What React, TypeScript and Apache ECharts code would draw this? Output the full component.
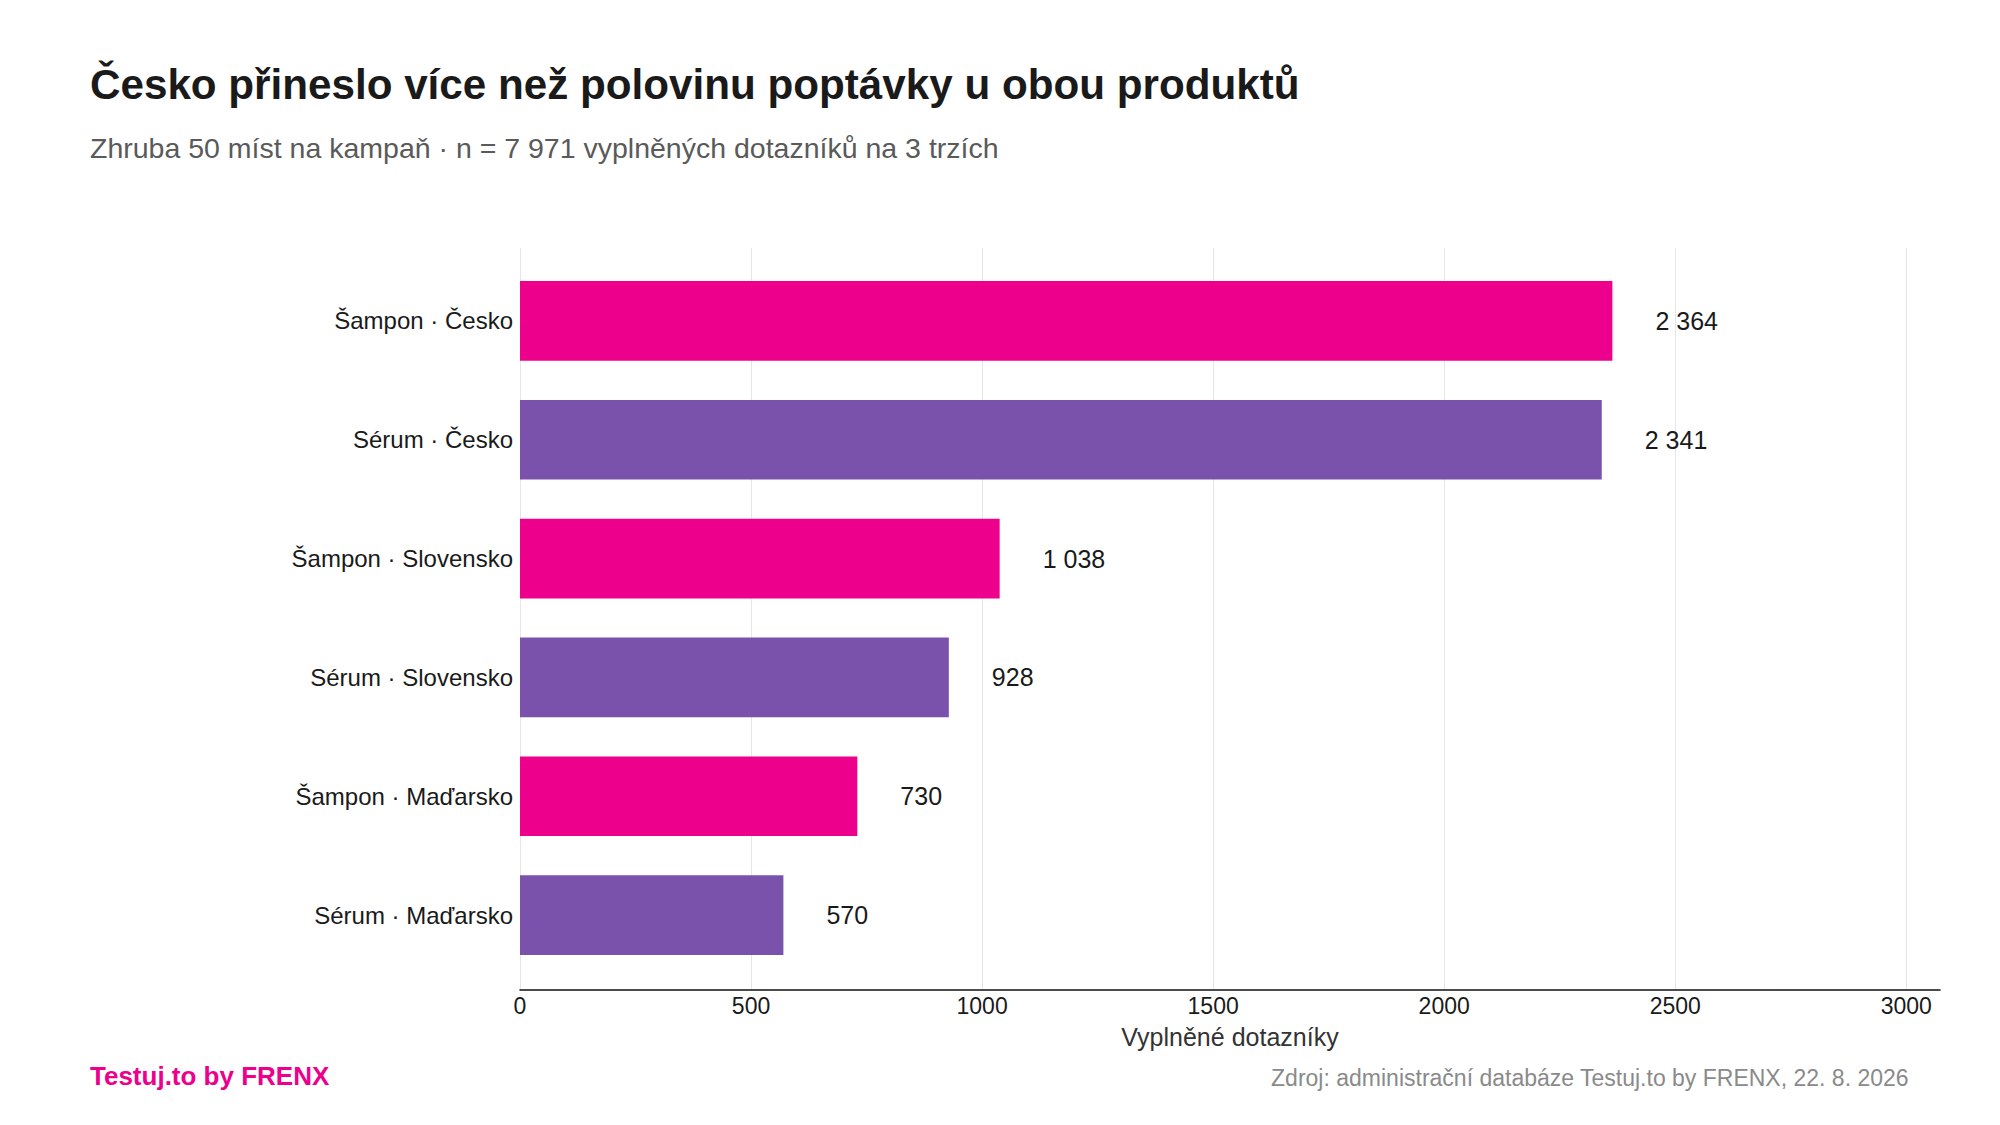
import React, { useEffect, useRef } from "react";
import * as echarts from "echarts";

const products = ["Šampon", "Sérum", "Šampon", "Sérum", "Šampon", "Sérum"];
const markets = ["Česko", "Česko", "Slovensko", "Slovensko", "Maďarsko", "Maďarsko"];
const responses = [2364, 2341, 1038, 928, 730, 570];
const xTicks = [0, 500, 1000, 1500, 2000, 2500, 3000];

const PINK = "#EC008C";
const PURPLE = "#7B52AB";
const FONT = "Liberation Sans, Arial, sans-serif";
const X_MAX = 3073;

const categories = products.map((p, i) => `${p} · ${markets[i]}`);

const fmtNumber = (v: number) =>
  String(Math.round(v)).replace(/\B(?=(\d{3})+(?!\d))/g, " ");

const App = () => {
  const chartRef = useRef<HTMLDivElement>(null);

  useEffect(() => {
    document.body.style.margin = "0";
    if (!chartRef.current) return;
    const chart = echarts.init(chartRef.current, null, { renderer: "svg" });

    const options: echarts.EChartsOption = {
      animation: false,
      backgroundColor: "#ffffff",
      textStyle: { fontFamily: FONT },
      title: [
        {
          text: "Česko přineslo více než polovinu poptávky u obou produktů",
          left: 90,
          top: 63,
          padding: 0,
          textStyle: { fontSize: 42.2, fontWeight: "bold", color: "#1a1a1a", fontFamily: FONT },
        },
        {
          text: "Zhruba 50 míst na kampaň · n = 7 971 vyplněných dotazníků na 3 trzích",
          left: 90,
          top: 133,
          padding: 0,
          textStyle: { fontSize: 28.5, fontWeight: "normal", color: "#5a5a5a", fontFamily: FONT },
        },
        {
          text: "Testuj.to by FRENX",
          left: 90,
          top: 1063,
          padding: 0,
          textStyle: { fontSize: 26, fontWeight: "bold", color: PINK, fontFamily: FONT },
        },
        {
          text: "Zdroj: administrační databáze Testuj.to by FRENX, 22. 8. 2026",
          right: 91,
          top: 1066,
          padding: 0,
          textStyle: { fontSize: 23, fontWeight: "normal", color: "#8a8a8a", fontFamily: FONT },
        },
      ],
      grid: [
        // bars
        { left: 520, top: 261.5, width: 1420, height: 713 },
        // axis frame with grid lines
        { left: 520, top: 248, width: 1420, height: 742 },
      ],
      xAxis: [
        { type: "value", gridIndex: 0, min: 0, max: X_MAX, show: false },
        {
          type: "value",
          gridIndex: 1,
          min: 0,
          max: X_MAX,
          interval: xTicks[1] - xTicks[0],
          name: "Vyplněné dotazníky",
          nameLocation: "middle",
          nameGap: 34,
          nameTextStyle: { fontSize: 25, color: "#333333", fontFamily: FONT },
          axisLine: { show: true, lineStyle: { color: "#111111", width: 1.6 } },
          axisTick: { show: false },
          axisLabel: {
            show: true,
            fontSize: 23,
            color: "#1a1a1a",
            margin: 4,
            showMaxLabel: false,
            formatter: (v: number) => (xTicks.includes(v) ? String(v) : ""),
          },
          splitLine: {
            show: true,
            showMaxLine: false,
            lineStyle: { color: "#e6e6e6", width: 1 },
          },
        } as any,
      ],
      yAxis: [
        {
          type: "category",
          gridIndex: 0,
          data: categories,
          inverse: true,
          axisLine: { show: false },
          axisTick: { show: false },
          splitLine: { show: false },
          axisLabel: {
            fontSize: 24,
            color: "#1a1a1a",
            margin: 7,
            padding: [4, 0, 0, 0],
            fontFamily: FONT,
          },
        },
        { type: "value", gridIndex: 1, show: false },
      ],
      series: [
        {
          type: "bar",
          xAxisIndex: 0,
          yAxisIndex: 0,
          barCategoryGap: "33%",
          data: responses.map((v, i) => ({
            value: v,
            itemStyle: { color: products[i] === "Šampon" ? PINK : PURPLE },
          })),
          label: {
            show: true,
            position: "right",
            distance: 43,
            fontSize: 25,
            color: "#1a1a1a",
            fontFamily: FONT,
            formatter: (p: any) => fmtNumber(p.value),
          },
        },
      ],
    };

    chart.setOption(options);
    return () => {
      chart.dispose();
    };
  }, []);

  return (
    <div
      ref={chartRef}
      style={{ position: "absolute", left: 0, top: 0, width: "2000px", height: "1125px" }}
    />
  );
};

export default App;
